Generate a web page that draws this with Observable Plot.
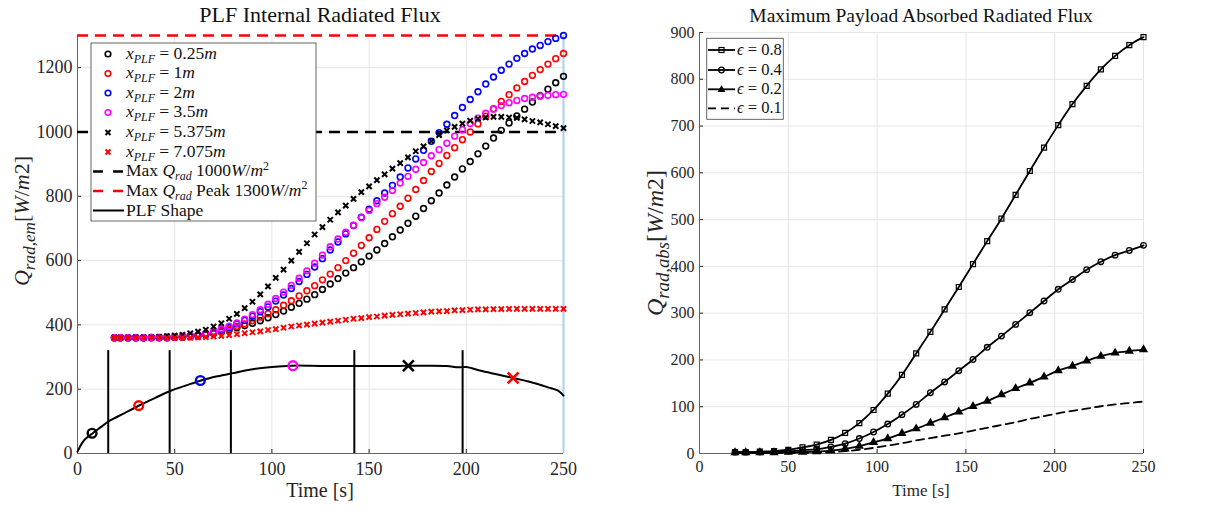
<!DOCTYPE html>
<html><head><meta charset="utf-8">
<script src="https://cdn.jsdelivr.net/npm/d3@7"></script>
<script src="https://cdn.jsdelivr.net/npm/@observablehq/plot@0.6"></script>
<style>
body{margin:0;background:#fff;}
#wrap{position:relative;width:1213px;height:508px;overflow:hidden;background:#fff;}
#left{position:absolute;left:0;top:0;}
#right{position:absolute;left:600px;top:0;}
#wrap svg{overflow:visible;}
#wrap svg text, #wrap svg tspan{font-family:"Liberation Serif","DejaVu Serif",serif !important;}
</style></head><body><div id="wrap"><div id="left"></div><div id="right"></div></div>
<script>
// ---------- Left panel data ----------
const timeLeft = [19,22,26,30,34,38,42,46,50,54,58,62,66,70,74,78,82,86,90,94,98,102,106,110,114,118,122,126,130,134,138,142,146,150,154,158,162,166,170,174,178,182,186,190,194,198,202,206,210,214,218,222,226,230,234,238,242,246,250];
const q025 = [360,360, 360,360,360,360,360,360,361,
  362,364,366,369,373,378,384,391,398,405,413,422,
  432,443,455,467,480,494,510,527,544,561,578,596,614,
  633,653,674,695,716,738,762,786,810,835,860,885,
  908,932,956,981,1005,1028,1050,1071,1093,1113,1133,1153,1173];
const q1 = [360,360, 360,360,360,360,360,360,361,
  362,364,366,370,374,380,387,395,403,413,424,435,
  447,461,475,490,506,522,540,558,578,600,623,647,671,
  697,722,746,769,794,821,849,877,902,927,951,976,
  1000,1025,1049,1072,1095,1116,1137,1157,1176,1194,1211,1228,1244];
const q2 = [360,360, 360,360,360,361,361,362,363,
  364,366,368,371,377,384,392,403,414,427,441,456,
  474,493,513,535,557,580,606,633,658,683,709,735,760,
  786,810,834,860,888,916,943,971,998,1024,1051,1076,
  1101,1125,1149,1171,1192,1211,1229,1244,1258,1269,1281,1291,1300];
const q35 = [360,360, 360,360,360,361,361,362,363,
  365,367,369,373,380,388,396,406,418,432,447,464,
  482,502,523,545,568,592,617,643,667,688,710,733,756,
  777,797,818,841,862,884,905,926,945,965,987,1007,
  1026,1043,1058,1071,1082,1091,1098,1104,1108,1111,1114,1116,1117];
const q5375 = [360,360, 360,361,361,362,363,365,367,
  369,374,379,385,395,405,419,434,452,472,495,520,
  546,572,600,627,654,681,704,727,750,771,792,813,831,
  850,868,886,903,921,940,955,972,990,1005,1016,1026,
  1035,1041,1045,1047,1047,1045,1044,1039,1034,1030,1024,1018,1012];
const q7075 = [360,360, 360,360,360,360,360,360,360,
  360,360,361,362,364,366,368,371,374,377,380,384,
  387,391,395,398,401,404,407,410,413,416,419,421,424,
  426,429,431,433,435,437,439,441,442,443,445,446,
  447,448,448,449,449,450,450,450,450,450,450,450,450];
const seriesLabels = ["0.25","1","2","3.5","5.375","7.075"];
const seriesColors = ["#000000","#ff0000","#0000ff","#ff00ff","#000000","#ff0000"];
const seriesSymbols = ["circle","circle","circle","circle","times","times"];

const plfTime  = [0,1,2.5,4,8,12,16,24,32,40,48,56,64,72,80,90,100,110,120,130,140,150,160,170,180,190,196,200,207,215,224,232,243,247,250];
const plfValue = [6,18,34,45,64,82,100,125,150,173,195,212,228,240,250,262,269,273,273,272,272,272,272,273,273,272,268,269,258,247,235,224,204,196,180];
const sectionTimes = [15.8,47.4,78.9,142.4,198.1];
const sectionTop = 320;
const bigMarkerTime  = [7.5,31.5,63.2,110.8,170.2,224.1];
const bigMarkerValue = [63,149,227,273,273,235];
const limitAvg = [1000];
const limitPeak = [1300];
const edgeTime = [250];
const xTicks = [0,50,100,150,200,250];
const yTicksLeft = [0,200,400,600,800,1000,1200];

// ---------- Right panel data ----------
const timeRight = [20,26,34,42,50,58,66,74,82,90,98,106,114,122,130,138,146,154,162,170,178,186,194,202,210,218,226,234,242,250];
const eps08 = [3,3,4,5,8,13,19,29,44,65,93,128,168,214,260,308,356,405,454,502,553,604,654,702,747,786,821,850,873,890];
const eps04 = [3,3,3,4,5,7,9,14,21,32,46,63,83,105,130,153,177,201,227,251,276,301,326,351,372,393,410,424,434,445];
const eps02 = [2,2,2,2,3,3,4,6,10,16,24,32,43,53,65,77,89,101,112,126,139,151,164,177,187,198,208,215,219,222];
const eps01 = [1,1,1,1,1,1,2,3,5,8,12,17,22,28,33,38,43,49,55,61,67,74,80,86,91,96,101,105,108,111];
const epsLabels = ["0.8","0.4","0.2","0.1"];
const yTicksRight = [0,100,200,300,400,500,600,700,800,900];

// ---------- helpers ----------
const FONT = '"Liberation Serif","DejaVu Serif",serif';
const TXT = "#262626";
const GRID = "#e6e6e6";
const tbl = (ts, vs) => ts.map((t, i) => ({t, v: vs[i]}));

function rich(parent, x, y, size, parts, opts = {}) {
  const subR = opts.subRatio || 0.7;
  const t = parent.append("text")
    .attr("transform", `translate(${x},${y})` + (opts.rotate ? ` rotate(${opts.rotate})` : ""))
    .attr("text-anchor", opts.anchor || "start")
    .attr("font-family", FONT).attr("font-size", size)
    .attr("fill", opts.fill || "#111").style("white-space", "pre");
  let shift = 0;
  for (const p of parts) {
    const fs = (p.sub || p.sup) ? size * subR : size;
    const target = p.sub ? size * 0.25 : p.sup ? -size * 0.36 : 0;
    const ts = t.append("tspan").attr("font-size", fs)
      .attr("font-style", p.i ? "italic" : "normal").text(p.t);
    if (target - shift !== 0) ts.attr("dy", target - shift);
    shift = target;
  }
  return t;
}

// ---------- Left plot ----------
const leftSeriesData = [q025, q1, q2, q35, q5375, q7075];
const leftDots = leftSeriesData.map((vals, k) =>
  seriesSymbols[k] === "circle"
    ? Plot.dot(tbl(timeLeft, vals), {x: "t", y: "v", r: 2.9, stroke: seriesColors[k], strokeWidth: 1.6, fill: "none"})
    : Plot.dot(tbl(timeLeft, vals), {x: "t", y: "v", r: 2.5, symbol: "times", stroke: seriesColors[k], strokeWidth: 2})
);
const bigTbl = bigMarkerTime.map((t, i) => ({t, v: bigMarkerValue[i], k: i}));
const bigDots = bigTbl.map(d =>
  seriesSymbols[d.k] === "circle"
    ? Plot.dot([d], {x: "t", y: "v", r: 4.4, stroke: seriesColors[d.k], strokeWidth: 2.4, fill: "none"})
    : Plot.dot([d], {x: "t", y: "v", r: 5, symbol: "times", stroke: seriesColors[d.k], strokeWidth: 2.6})
);

const left = Plot.plot({
  width: 600, height: 508,
  marginLeft: 77, marginRight: 37, marginTop: 35, marginBottom: 55,
  x: {domain: [0, 250]}, y: {domain: [0, 1300]},
  style: {fontFamily: FONT, fontSize: "18px", color: TXT, background: "white", overflow: "visible"},
  marks: [
    Plot.gridX(xTicks, {stroke: GRID, strokeOpacity: 1}),
    Plot.gridY(yTicksLeft, {stroke: GRID, strokeOpacity: 1}),
    Plot.axisX(xTicks, {tickSize: -4, tickPadding: 13, label: null, tickFormat: d => String(d), fontFamily: FONT}),
    Plot.axisY(yTicksLeft, {tickSize: -4, tickPadding: 9, label: null, tickFormat: d => String(d), fontFamily: FONT}),
    Plot.ruleX([0], {stroke: "#666"}),
    Plot.ruleY([0], {stroke: "#666"}),
    Plot.ruleX(edgeTime, {stroke: "#a9cfe9", strokeWidth: 2}),
    Plot.ruleY(limitAvg, {stroke: "black", strokeWidth: 2.5, strokeDasharray: "11,7"}),
    Plot.ruleY(limitPeak, {stroke: "#ff0000", strokeWidth: 2.5, strokeDasharray: "11,7"}),
    ...leftDots,
    Plot.ruleX(sectionTimes, {y1: 0, y2: sectionTop, stroke: "black", strokeWidth: 2}),
    Plot.line(tbl(plfTime, plfValue), {x: "t", y: "v", stroke: "black", strokeWidth: 2, curve: "catmull-rom"}),
    ...bigDots
  ]
});
document.getElementById("left").appendChild(left);
const sL = d3.select(left);

rich(sL, 320, 22, 22, [{t: "PLF Internal Radiated Flux"}], {anchor: "middle"});
rich(sL, 320, 497, 20, [{t: "Time [s]"}], {anchor: "middle", fill: TXT});
rich(sL, 29, 221, 22, [{t: "Q", i: 1}, {t: "rad,em", i: 1, sub: 1}, {t: "["}, {t: "W", i: 1}, {t: "/"}, {t: "m", i: 1}, {t: "2"}, {t: "]"}], {anchor: "middle", rotate: -90, fill: TXT, subRatio: 0.78});

// left legend
const lg = sL.append("g");
lg.append("rect").attr("x", 91).attr("y", 43).attr("width", 225).attr("height", 178)
  .attr("fill", "white").attr("stroke", "#555").attr("stroke-width", 0.9);
const rowsY = [54, 73.5, 93, 112.5, 132.5, 152, 171.5, 191, 210.5];
const LFS = 17.5;
seriesLabels.forEach((lab, k) => {
  const y = rowsY[k];
  if (seriesSymbols[k] === "circle") {
    lg.append("circle").attr("cx", 108).attr("cy", y).attr("r", 2.8).attr("fill", "none")
      .attr("stroke", seriesColors[k]).attr("stroke-width", 1.6);
  } else {
    lg.append("path").attr("d", `M${105.5},${y-2.5}L${110.5},${y+2.5}M${105.5},${y+2.5}L${110.5},${y-2.5}`)
      .attr("stroke", seriesColors[k]).attr("stroke-width", 2);
  }
  rich(lg, 126, y + 4.5, LFS, [{t: "x", i: 1}, {t: "PLF", i: 1, sub: 1}, {t: " = " + lab}, {t: "m", i: 1}], {subRatio: 0.68});
});
[[limitAvg[0], "black", " 1000"], [limitPeak[0], "#ff0000", " Peak 1300"]].forEach(([v, c, txt], j) => {
  const y = rowsY[6 + j];
  lg.append("line").attr("x1", 93).attr("x2", 124).attr("y1", y).attr("y2", y)
    .attr("stroke", c).attr("stroke-width", 2.5).attr("stroke-dasharray", "10,10");
  rich(lg, 126, y + 4.5, LFS, [{t: "Max "}, {t: "Q", i: 1}, {t: "rad", i: 1, sub: 1}, {t: txt}, {t: "W", i: 1}, {t: "/"}, {t: "m", i: 1}, {t: "2", sup: 1}], {subRatio: 0.68});
});
lg.append("line").attr("x1", 93).attr("x2", 124).attr("y1", rowsY[8]).attr("y2", rowsY[8])
  .attr("stroke", "black").attr("stroke-width", 2);
rich(lg, 126, rowsY[8] + 5, LFS, [{t: "PLF Shape"}]);

// ---------- Right plot ----------
const lineOpts = {x: "t", y: "v", stroke: "black", strokeWidth: 1.8, curve: "catmull-rom"};
const right = Plot.plot({
  width: 613, height: 508,
  marginLeft: 99, marginRight: 70, marginTop: 32, marginBottom: 55,
  x: {domain: [0, 250]}, y: {domain: [0, 900]},
  style: {fontFamily: FONT, fontSize: "16px", color: TXT, background: "white", overflow: "visible"},
  marks: [
    Plot.gridX(xTicks, {stroke: GRID, strokeOpacity: 1}),
    Plot.gridY(yTicksRight, {stroke: GRID, strokeOpacity: 1}),
    Plot.axisX(xTicks, {tickSize: -4, tickPadding: 11, label: null, tickFormat: d => String(d), fontFamily: FONT}),
    Plot.axisY(yTicksRight, {tickSize: -4, tickPadding: 9, label: null, tickFormat: d => String(d), fontFamily: FONT}),
    Plot.ruleX([0], {stroke: "#666"}),
    Plot.ruleY([0], {stroke: "#666"}),
    Plot.line(tbl(timeRight, eps01), {...lineOpts, strokeDasharray: "8,5"}),
    Plot.line(tbl(timeRight, eps02), lineOpts),
    Plot.dot(tbl(timeRight, eps02), {x: "t", y: "v", symbol: "triangle", r: 3.4, fill: "black"}),
    Plot.line(tbl(timeRight, eps04), lineOpts),
    Plot.dot(tbl(timeRight, eps04), {x: "t", y: "v", symbol: "circle", r: 2.8, fill: "none", stroke: "black", strokeWidth: 1.3}),
    Plot.line(tbl(timeRight, eps08), lineOpts),
    Plot.dot(tbl(timeRight, eps08), {x: "t", y: "v", symbol: "square", r: 2.8, fill: "none", stroke: "black", strokeWidth: 1.2})
  ]
});
document.getElementById("right").appendChild(right);
const sR = d3.select(right);
rich(sR, 321, 22, 19.5, [{t: "Maximum Payload Absorbed Radiated Flux"}], {anchor: "middle"});
rich(sR, 321, 496, 17, [{t: "Time [s]"}], {anchor: "middle", fill: TXT});
rich(sR, 63, 243, 24, [{t: "Q", i: 1}, {t: "rad,abs", i: 1, sub: 1}, {t: "["}, {t: "W", i: 1}, {t: "/"}, {t: "m", i: 1}, {t: "2"}, {t: "]"}], {anchor: "middle", rotate: -90, fill: TXT, subRatio: 0.78});

// right legend
const rg = sR.append("g");
rg.append("rect").attr("x", 106.7).attr("y", 38.3).attr("width", 76.6).attr("height", 81)
  .attr("fill", "white").attr("stroke", "#555").attr("stroke-width", 0.9);
const rRows = [50, 70, 89.3, 108.3];
epsLabels.forEach((lab, k) => {
  const y = rRows[k];
  const ln = rg.append("line").attr("x1", 108).attr("x2", 135).attr("y1", y).attr("y2", y)
    .attr("stroke", "black").attr("stroke-width", 1.8);
  if (k === 3) ln.attr("stroke-dasharray", "8,5");
  if (k === 0) rg.append("rect").attr("x", 121.5 - 2.5).attr("y", y - 2.5).attr("width", 5).attr("height", 5)
    .attr("fill", "none").attr("stroke", "black").attr("stroke-width", 1.2);
  if (k === 1) rg.append("circle").attr("cx", 121.5).attr("cy", y).attr("r", 2.8)
    .attr("fill", "none").attr("stroke", "black").attr("stroke-width", 1.3);
  if (k === 2) rg.append("path").attr("d", `M121.5,${y-4}L125.5,${y+2.8}L117.5,${y+2.8}Z`).attr("fill", "black");
  rich(rg, 137, y + 5, 16.5, [{t: "\u03f5", i: 1}, {t: " = " + lab}]);
});
</script>
</body></html>
